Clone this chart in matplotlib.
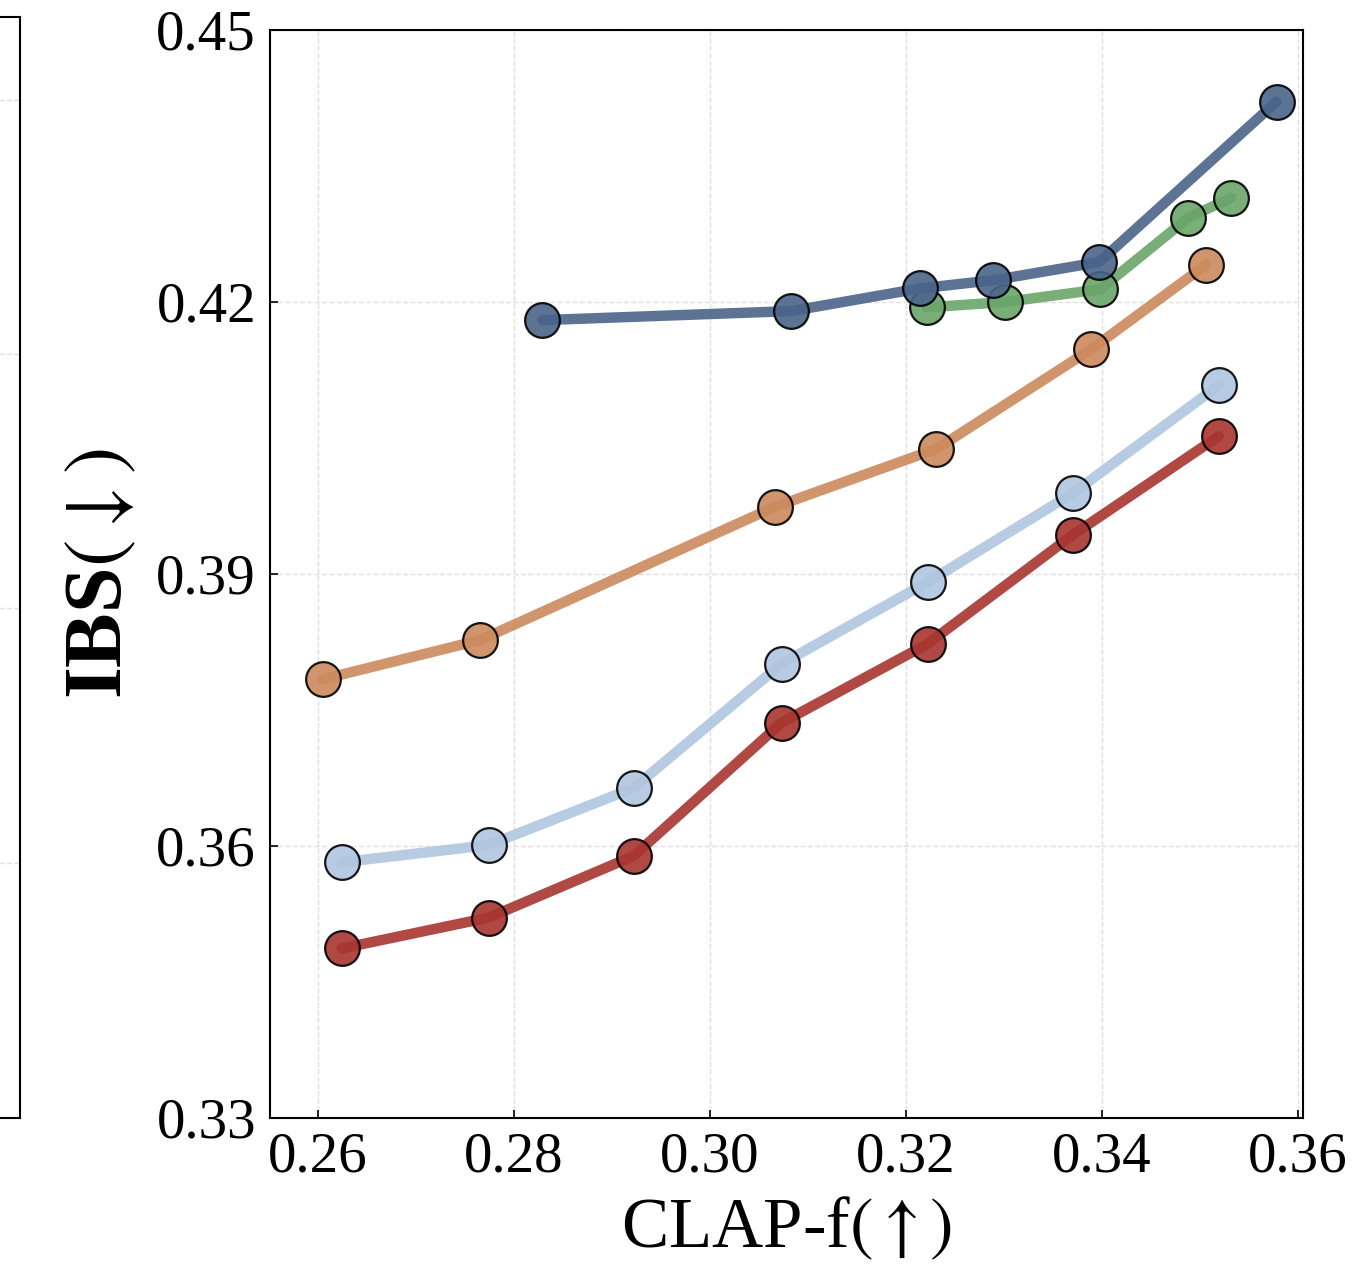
import matplotlib
matplotlib.use("Agg")
import matplotlib.pyplot as plt

plt.rcParams["font.family"] = ["Liberation Serif", "DejaVu Serif"]
plt.rcParams["mathtext.fontset"] = "stix"

# ──────────────────────────────────────────────────────────────────────────────
# Data
# ──────────────────────────────────────────────────────────────────────────────

navy_x = [0.2829, 0.3083, 0.3214, 0.3289, 0.3397, 0.3578]
navy_y = [0.4180, 0.4190, 0.4215, 0.4224, 0.4244, 0.4421]

green_x = [0.3221, 0.3301, 0.3398, 0.3488, 0.3532]
green_y = [0.4194, 0.4200, 0.4214, 0.4293, 0.4315]

orange_x = [0.2605, 0.2765, 0.3066, 0.3231, 0.3389, 0.3506]
orange_y = [0.3784, 0.3827, 0.3974, 0.4038, 0.4148, 0.4241]

light_x = [0.2624, 0.2774, 0.2922, 0.3073, 0.3222, 0.3370, 0.3519]
light_y = [0.3582, 0.3601, 0.3664, 0.3801, 0.3891, 0.3989, 0.4108]

red_x = [0.2624, 0.2774, 0.2922, 0.3073, 0.3222, 0.3370, 0.3519]
red_y = [0.3487, 0.3521, 0.3589, 0.3736, 0.3823, 0.3943, 0.4052]

x_ticks = [0.26, 0.28, 0.30, 0.32, 0.34, 0.36]
y_ticks = [0.33, 0.36, 0.39, 0.42, 0.45]

SERIES = [
    (orange_x, orange_y, "#cc8a5e"),
    (light_x, light_y, "#b0c6df"),
    (red_x, red_y, "#a83530"),
    (green_x, green_y, "#6aa56a"),
    (navy_x, navy_y, "#4a6489"),
]

W, H = 1358, 1266
fig = plt.figure(figsize=(W / 100, H / 100), dpi=100)

# fragment of the neighbouring panel on the left
ax_left = fig.add_axes([-0.5, 148 / H, 0.5 + 20 / W, 1101 / H])
ax_left.set_xlim(0, 1)
ax_left.set_ylim(0, 1)
ax_left.set_xticks([])
ax_left.set_yticks([0.232, 0.463, 0.694, 0.925])
ax_left.tick_params(left=False, labelleft=False)
ax_left.grid(True, axis="y", linestyle="--", color="#e0e0e0", linewidth=1)
for sp in ax_left.spines.values():
    sp.set_linewidth(1.5)

# main panel
ax = fig.add_axes([270 / W, 148 / H, 1033 / W, 1088 / H])
for xs, ys, color in SERIES:
    ax.plot(xs, ys, color=color, linewidth=7.5, alpha=0.9, solid_capstyle="round",
            marker="o", markersize=25, markerfacecolor=color,
            markeredgecolor="black", markeredgewidth=1.6, zorder=3)

ax.set_xlim(0.2551, 0.3605)
ax.set_ylim(0.33, 0.45)
ax.set_xticks(x_ticks)
ax.set_xticklabels([f"{v:.2f}" for v in x_ticks])
ax.set_yticks(y_ticks)
ax.set_yticklabels([f"{v:.2f}" for v in y_ticks])
ax.tick_params(direction="in", labelsize=41, length=6, width=1.2, pad=10)
ax.grid(True, linestyle="--", color="#e0e0e0", linewidth=1)
ax.set_axisbelow(True)
for sp in ax.spines.values():
    sp.set_linewidth(1.5)

ax.set_xlabel(r"CLAP-f$(\uparrow)$", fontsize=51, labelpad=8)
ax.set_ylabel(r"IBS$(\downarrow)$", fontsize=59, fontweight="bold", labelpad=12)

fig.savefig("out.png", dpi=100)
